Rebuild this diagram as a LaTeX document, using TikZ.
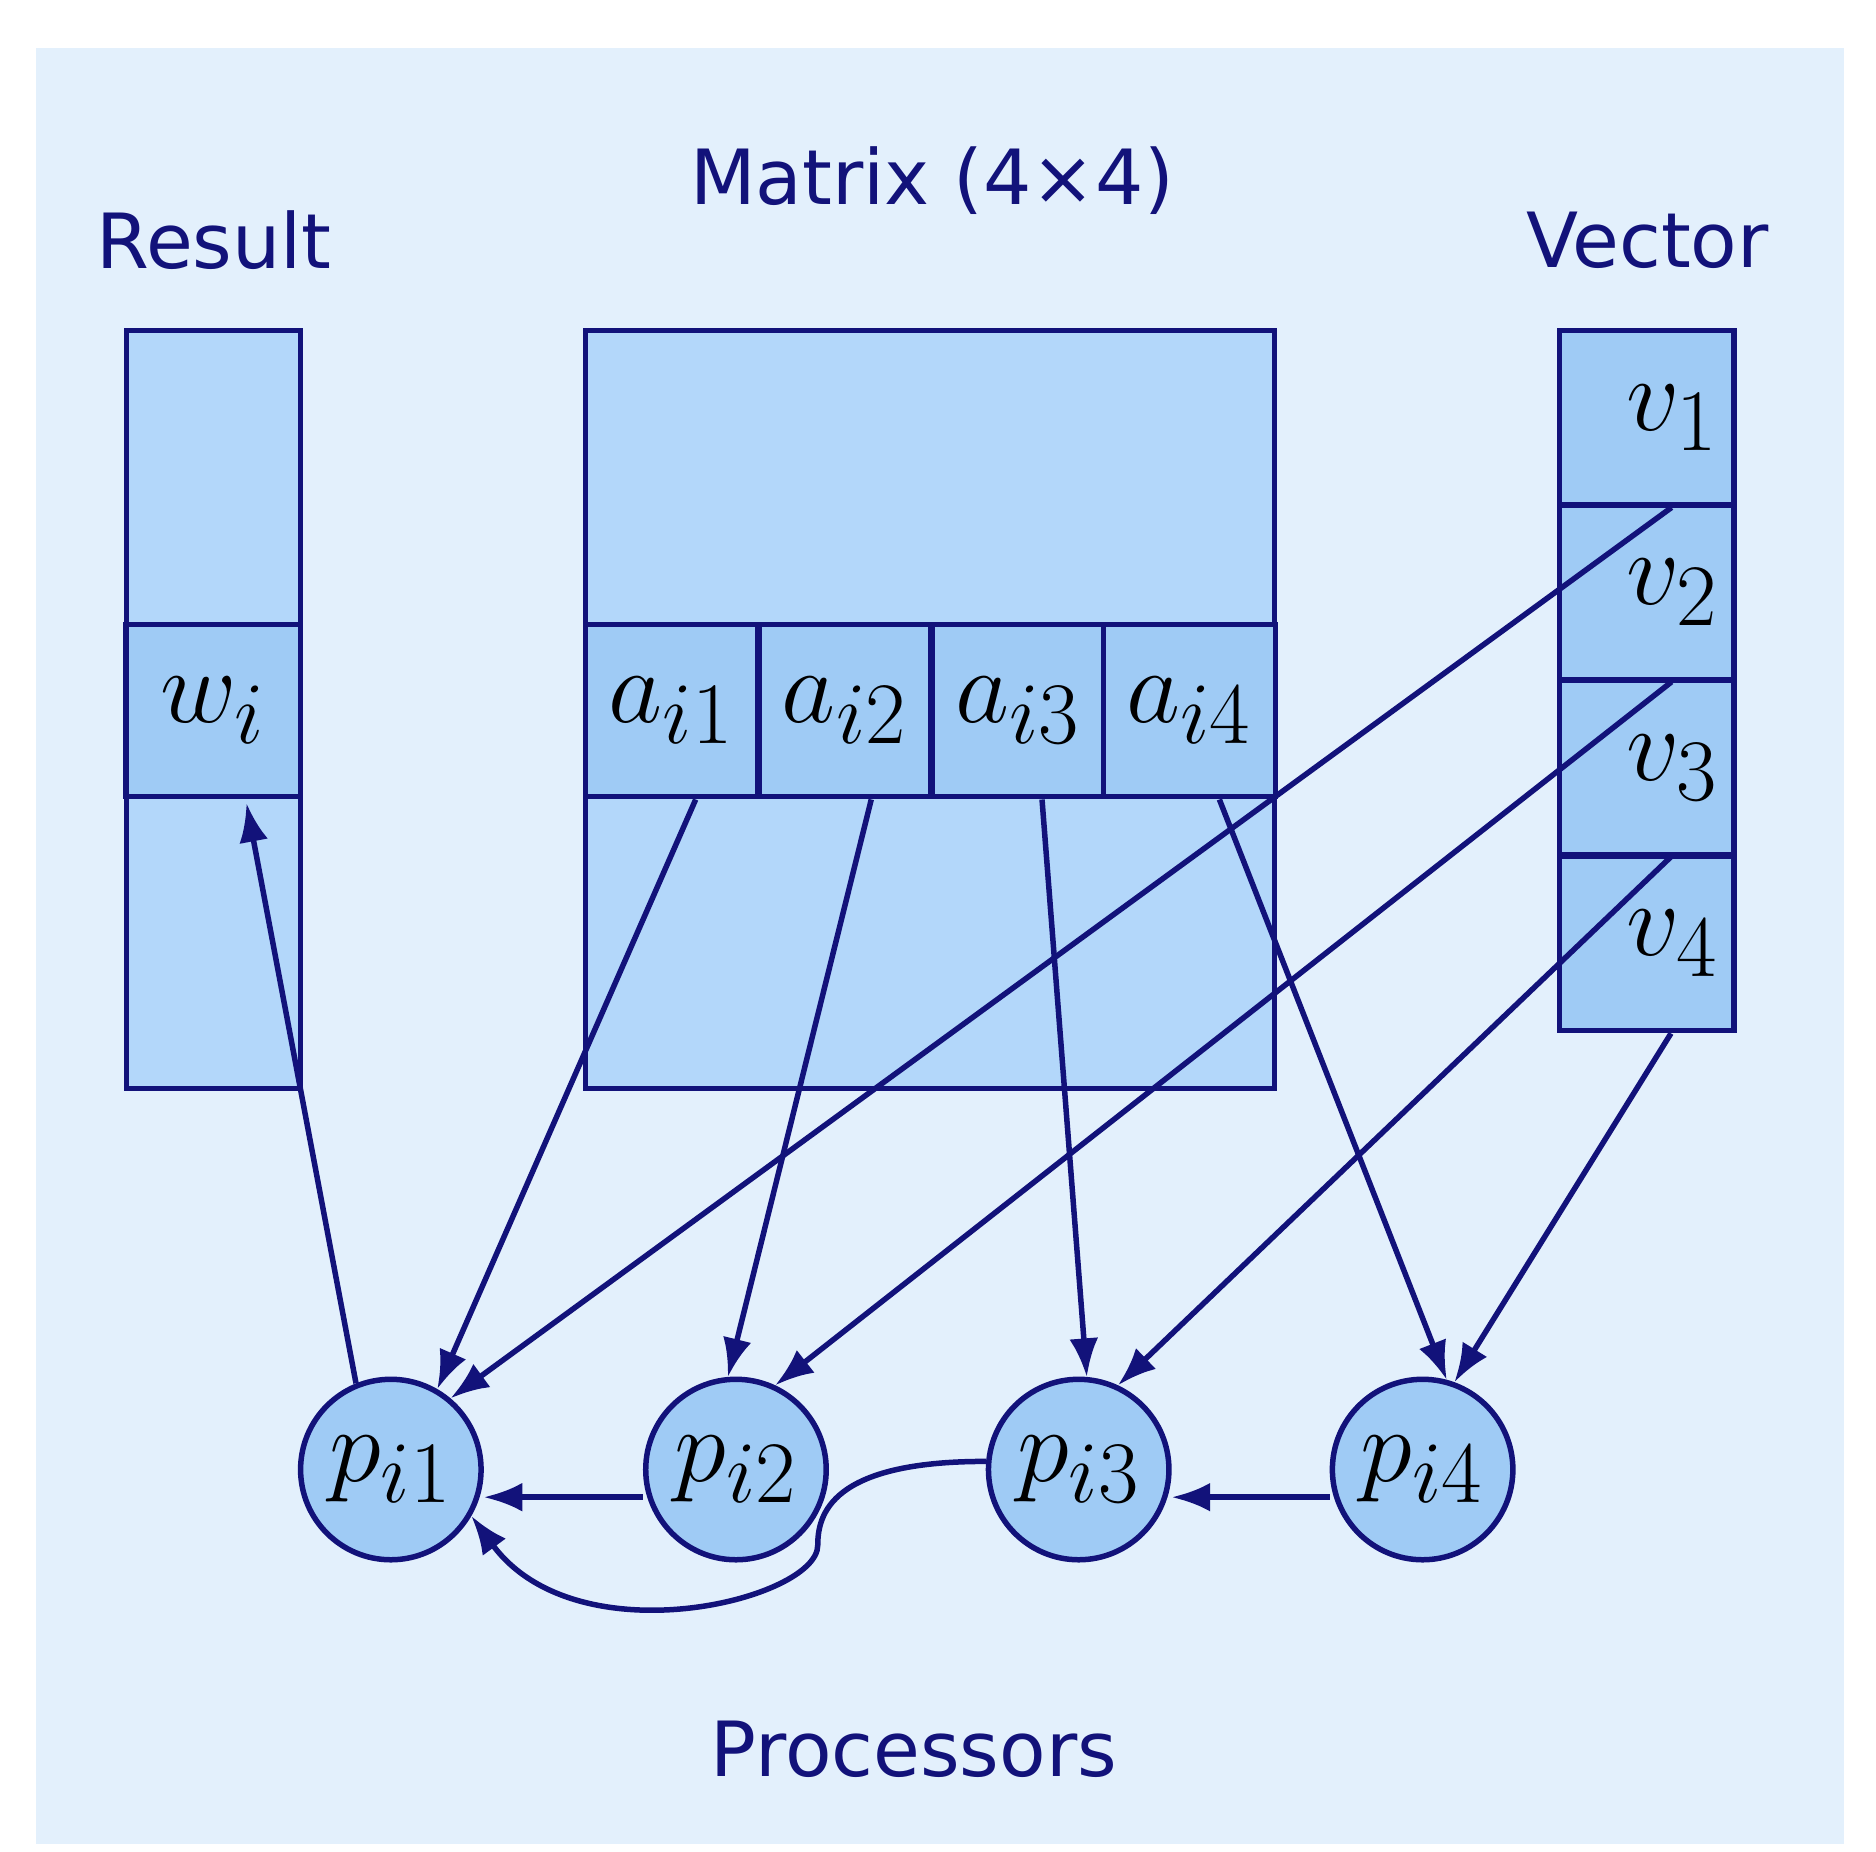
\documentclass[tikz,border=0pt]{standalone}
\usepackage{fontspec}
\setmainfont{DejaVu Sans}
\usetikzlibrary{arrows.meta}
\usetikzlibrary{positioning}
\definecolor{navy}{HTML}{12127A}
\definecolor{bgblue}{HTML}{E3F0FC}
\definecolor{lightcell}{HTML}{B3D7FA}
\definecolor{darkcell}{HTML}{9FCBF5}
\tikzset{>={Latex[length=3.2mm,width=2.4mm]}}
\tikzset{
    block/.style={draw=navy, line width=1.3pt, fill=lightcell},
    cell/.style={draw=navy, line width=1.3pt, fill=darkcell, inner sep=0pt, minimum width=1.43cm, minimum height=1.43cm, font=\fontsize{30}{34}\selectfont},
    proc/.style={circle, draw=navy, line width=1.3pt, fill=darkcell, minimum size=1.5cm, inner sep=0pt, font=\fontsize{30}{34}\selectfont},
    title/.style={text=navy, font=\fontsize{18}{22}\selectfont},
    link/.style={->, draw=navy, line width=1.3pt},
}
\begin{document}
\begin{tikzpicture}[x=0.01cm, y=-0.01cm] % matrix-vector product on processors
	\useasboundingbox (0,0) rectangle (1560,1540);
	\fill[bgblue] (30,40) rectangle (1533,1533);
	% columns and matrix
	\draw[block] (105,275) rectangle (250,905);
	\draw[block] (487,275) rectangle (1060,905);
	\node[cell, minimum width=1.45cm] (w) at (177.5,591) {$w_i$};
	\foreach \j/\x in {1/558.5,2/702.5,3/846.5,4/989}
	\node[cell] (a\j) at (\x,591) {$a_{i\j}$};
	\foreach \j/\y in {1/347.5,2/492.5,3/638.5,4/784.5}
	\node[cell, minimum width=1.45cm, minimum height=1.45cm] (v\j) at (1369.5,\y) {\makebox[1.2cm][r]{$v_\j$}};
	% titles
	\node[title] (res) at (178,200) {Result};
	\node[title] (mat) at (775,150) {Matrix (4×4)};
	\node[title] (vec) at (1370,200) {Vector};
	\node[title] (procs) at (760,1455) {Processors};
	% processors
	\foreach \j/\x in {1/325,2/612,3/897,4/1183}
	\node[proc] (p\j) at (\x,1222) {$p_{i\j}$};
	% connectors
	\coordinate (v1s) at (1390,422);
	\coordinate (v2s) at (1390,567);
	\coordinate (v3s) at (1390,712);
	\coordinate (wend) at (205,668);
	\draw[link] (a1.south) ++(20,0) -- (p1.60);
	\draw[link] (a2.south) ++(22,0) -- (p2.95);
	\draw[link] (a3.south) ++(20,0) -- (p3.85);
	\draw[link] (a4.south) ++(25,0) -- (p4.75);
	\draw[link] (v1s) -- (p1.50);
	\draw[link] (v2s) -- (p2.65);
	\draw[link] (v3s) -- (p3.65);
	\draw[link] (v4.south) ++(20,0) -- (p4.70);
	\draw[link] (p1.112) -- (wend);
	\draw[link] (p2.west |- 0,1245) -- (p1.east |- 0,1245);
	\draw[link] (p4.west |- 0,1245) -- (p3.east |- 0,1245);
	\draw[link] (p3.175) .. controls (690,1215) and (680,1260) .. (680,1285)
		.. controls (680,1330) and (480,1380) .. (p1.-30);
\end{tikzpicture}
\end{document}
